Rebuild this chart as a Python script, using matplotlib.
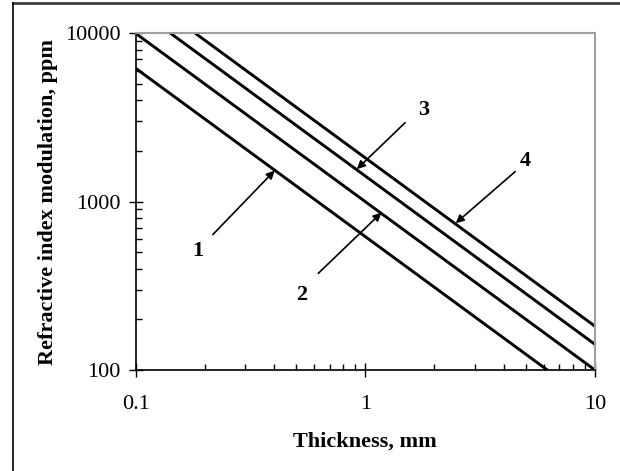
import matplotlib
matplotlib.use('Agg')
import matplotlib.pyplot as plt
from matplotlib.lines import Line2D
from matplotlib.ticker import LogLocator, NullFormatter, FixedLocator, FixedFormatter

# thickness, mm
thickness = [0.1, 0.2, 0.5, 1, 2, 5, 10]

# refractive index modulation, ppm
curve_1 = [6200, 3100, 1240, 620, 310, 124, 62]
curve_2 = [10000, 5000, 2000, 1000, 500, 200, 100]
curve_3 = [14200, 7100, 2840, 1420, 710, 284, 142]
curve_4 = [18200, 9100, 3640, 1820, 910, 364, 182]

x_ticks = [0.1, 1, 10]
x_tick_labels = ['0.1', '1', '10']
y_ticks = [100, 1000, 10000]
y_tick_labels = ['100', '1000', '10000']

# label text, label position, arrow tail, arrow head
callouts = [
    ('1', (0.186, 507), (0.217, 638), (0.403, 1530)),
    ('2', (0.526, 279), (0.624, 375), (1.175, 860)),
    ('3', (1.80, 3510), (1.49, 2944), (0.919, 1560)),
    ('4', (4.99, 1750), (4.49, 1507), (2.475, 745)),
]

plt.rcParams['font.family'] = ['Liberation Serif', 'DejaVu Serif']

fig = plt.figure(figsize=(6.2, 4.71), dpi=100)
ax = fig.add_axes([0.2187, 0.2144, 0.7410, 0.7149])

for ys in [curve_1, curve_2, curve_3, curve_4]:
    ax.plot(thickness, ys, color='black', lw=2.1, solid_capstyle='butt')

ax.set_xscale('log')
ax.set_yscale('log')
ax.set_xlim(0.1, 10)
ax.set_ylim(100, 10000)

ax.xaxis.set_major_locator(FixedLocator(x_ticks))
ax.xaxis.set_major_formatter(FixedFormatter(x_tick_labels))
ax.yaxis.set_major_locator(FixedLocator(y_ticks))
ax.yaxis.set_major_formatter(FixedFormatter(y_tick_labels))
ax.xaxis.set_minor_locator(LogLocator(base=10, subs=range(2, 10)))
ax.yaxis.set_minor_locator(LogLocator(base=10, subs=range(2, 10)))
ax.xaxis.set_minor_formatter(NullFormatter())
ax.yaxis.set_minor_formatter(NullFormatter())

ax.tick_params(which='major', direction='inout', length=10, width=1.0, labelsize=16, color='black')
ax.tick_params(axis='x', which='major', pad=13)
ax.tick_params(axis='y', which='major', pad=6)
ax.tick_params(which='minor', direction='in', length=4, width=1.0, color='black')

for side in ['left', 'bottom']:
    ax.spines[side].set_color('black')
    ax.spines[side].set_linewidth(1.2)
for side in ['top', 'right']:
    ax.spines[side].set_color('#a0a0a0')
    ax.spines[side].set_linewidth(1.5)

ax.set_xlabel('Thickness, mm', fontsize=16, fontweight='bold', labelpad=13)
ax.set_ylabel('Refractive index modulation, ppm', fontsize=16, fontweight='bold', labelpad=5)

for label, text_xy, tail, head in callouts:
    ax.text(text_xy[0], text_xy[1], label, fontsize=16, fontweight='bold', ha='center', va='center')
    ax.annotate('', xy=head, xytext=tail,
                arrowprops=dict(arrowstyle='-|>', color='black', lw=1.2, mutation_scale=12,
                                shrinkA=0, shrinkB=0))

# chart area border (top and left edges only)
fig.add_artist(Line2D([12.5 / 620, 1], [1 - 2.5 / 471, 1 - 2.5 / 471],
                      transform=fig.transFigure, color='#404040', lw=2))
fig.add_artist(Line2D([12.5 / 620, 12.5 / 620], [0, 1 - 2.5 / 471],
                      transform=fig.transFigure, color='black', lw=1.2))

fig.savefig('out.png', dpi=100)
